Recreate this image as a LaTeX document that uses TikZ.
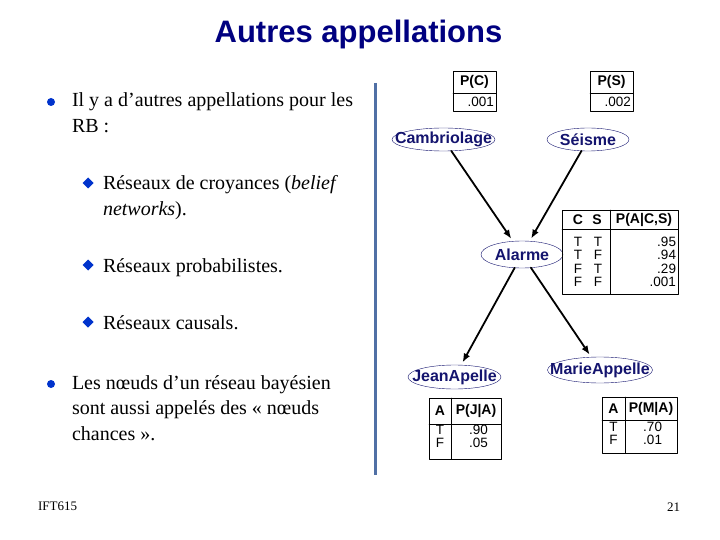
\documentclass[tikz,border=0pt]{standalone}
\usepackage{fontspec}
\setmainfont{Liberation Serif}
\setsansfont{Liberation Sans}
\usetikzlibrary{shapes.geometric,arrows.meta}
\definecolor{titleblue}{RGB}{0,0,128}
\definecolor{nodeblue}{RGB}{20,20,110}
\definecolor{bulletblue}{RGB}{0,51,204}
\definecolor{barblue}{RGB}{80,112,165}

\begin{document}
\begin{tikzpicture}[x=1pt, y=-1pt, line cap=round, line join=round, >={Latex[length=9pt,width=7pt]},
	every node/.style={inner sep=0pt, outer sep=0pt},
	txt/.style={anchor=base west, align=left, font=\fontsize{20}{25.5}\selectfont},
	var/.style={ellipse, draw=nodeblue, text=nodeblue, font=\sffamily\bfseries\fontsize{16}{16}\selectfont},
	hd/.style={font=\sffamily\bfseries\fontsize{14}{14}\selectfont},
	cpt/.style={font=\sffamily\fontsize{13.5}{13.5}\selectfont},
	arr/.style={->, line width=1.8pt, shorten >=3pt}]
	\useasboundingbox (0,0) rectangle (720,540);
	\node[anchor=base, text=titleblue, font=\sffamily\bfseries\fontsize{31}{36}\selectfont] (titre) at (358.5,43) {Autres appellations};
	\draw[barblue, line width=3pt, line cap=butt] (375,83) -- (375,475);
	% liste de gauche (base = derniere ligne)
	\fill[bulletblue] (51,102) circle (4) (51,384) circle (4);
	\foreach \y in {183,265,322}
		\fill[bulletblue] (88,\y-5.5) -- (93.5,\y) -- (88,\y+5.5) -- (82.5,\y) -- cycle;
	\node[txt] (l1) at (72,132.5) {Il y a d’autres appellations pour les\\RB :};
	\node[txt] (l2) at (103,215.5) {Réseaux de croyances (\textit{belief}\\\textit{networks}).};
	\node[txt] (l3) at (103,272) {Réseaux probabilistes.};
	\node[txt] (l4) at (103,329) {Réseaux causals.};
	\node[txt] (l5) at (72,440) {Les nœuds d’un réseau bayésien\\sont aussi appelés des « nœuds\\chances ».};
	\node[anchor=base west, font=\fontsize{13}{13}\selectfont] (cours) at (38,510) {IFT615};
	\node[anchor=base east, font=\fontsize{13}{13}\selectfont] (page) at (680,511) {21};
	% le reseau
	\node[var, minimum width=103pt, minimum height=23pt] (cam) at (443.5,139.5) {\makebox[0pt]{Cambriolage}};
	\node[var, minimum width=82pt, minimum height=23pt] (sei) at (588,139.5) {\makebox[0pt]{Séisme}};
	\node[var, minimum width=82pt, minimum height=27pt] (ala) at (522,254.5) {\makebox[0pt]{Alarme}};
	\node[var, minimum width=93pt, minimum height=24pt] (jean) at (454.5,377) {\makebox[0pt]{JeanApelle}};
	\node[var, minimum width=105pt, minimum height=26pt] (marie) at (600,370) {\makebox[0pt]{MarieAppelle}};
	\draw[arr] (cam) -- (ala);
	\draw[arr] (sei) -- (ala);
	\draw[arr] (ala) -- (jean);
	\draw[arr] (ala) -- (marie);
	% tables
	\draw (453,71) rectangle (496,111) (453,93) -- (496,93);
	\node[hd] (pc) at (474.5,82) {P(C)};
	\node[cpt, anchor=east] (pcv) at (494,102) {.001};
	\draw (590,71) rectangle (633,111) (590,93) -- (633,93);
	\node[hd] (ps) at (611.5,82) {P(S)};
	\node[cpt, anchor=east] (psv) at (631,102) {.002};
	\draw (562,210) rectangle (678,294) (562,229) -- (678,229) (610,210) -- (610,294);
	\node[hd] (hc) at (578,219.5) {C};
	\node[hd] (hs) at (597,219.5) {S};
	\node[hd] (hpa) at (644,219.5) {P(A|C,S)};
	\foreach \c/\s/\p [count=\i] in {T/T/.95, T/F/.94, F/T/.29, F/F/.001} {
		\node[cpt] (c\i) at (578,228.7+13.3*\i) {\c};
		\node[cpt] (s\i) at (598,228.7+13.3*\i) {\s};
		\node[cpt, anchor=east] (pa\i) at (676,228.7+13.3*\i) {\p};
	}
	\draw (429,398) rectangle (501,459) (429,424) -- (501,424) (451,398) -- (451,459);
	\node[hd] (ja) at (440,411) {A};
	\node[hd] (hpj) at (476,411) {P(J|A)};
	\node[cpt] (j1) at (440,430) {T};
	\node[cpt] (j2) at (440,443) {F};
	\node[cpt, anchor=east] (pj1) at (488,430) {.90};
	\node[cpt, anchor=east] (pj2) at (488,443) {.05};
	\draw (602,397) rectangle (677,453) (602,420) -- (677,420) (625,397) -- (625,453);
	\node[hd] (ma) at (613.5,408.5) {A};
	\node[hd] (hpm) at (651,408.5) {P(M|A)};
	\node[cpt] (m1) at (613.5,427) {T};
	\node[cpt] (m2) at (613.5,440) {F};
	\node[cpt, anchor=east] (pm1) at (662,427) {.70};
	\node[cpt, anchor=east] (pm2) at (662,440) {.01};
\end{tikzpicture}
\end{document}
